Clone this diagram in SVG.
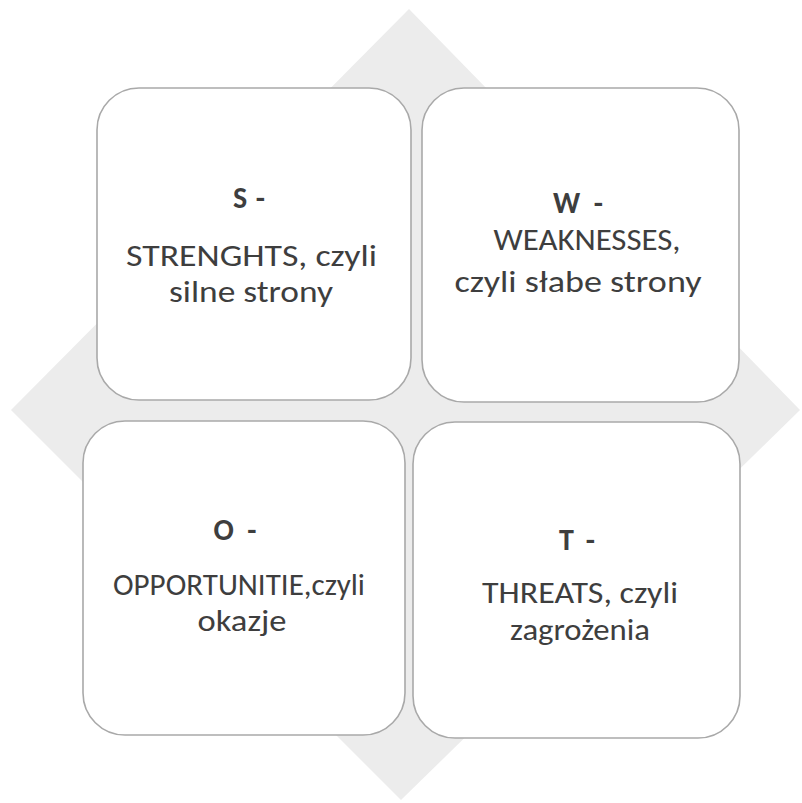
<svg xmlns="http://www.w3.org/2000/svg" width="802" height="803" viewBox="0 0 802 803">
<style>
.box{fill:#ffffff;stroke:#a9a9a9;stroke-width:1.6}
.t{font-family:Carlito,Lato,"Open Sans",sans-serif;font-size:30px;fill:#3e3e3e;text-anchor:middle}
.h{font-weight:bold}
</style>
<rect width="802" height="803" fill="#ffffff"/>
<g id="background">
<polygon points="409,9 800,410 401,800 11,410" fill="#ececec"/>
</g>
<g id="connectors"></g>
<g id="node-s">
<rect class="box" x="97" y="88" width="314" height="312" rx="42"/>
<text class="t h" x="249" y="208" textLength="32" lengthAdjust="spacing">S -</text>
<text class="t" x="251.5" y="266" textLength="251" lengthAdjust="spacingAndGlyphs">STRENGHTS, czyli</text>
<text class="t" x="251" y="302" textLength="164" lengthAdjust="spacingAndGlyphs">silne strony</text>
</g>
<g id="node-w">
<rect class="box" x="422" y="88" width="317" height="314" rx="42"/>
<text class="t h" x="578" y="213" textLength="50" lengthAdjust="spacing">W -</text>
<text class="t" x="587" y="250" textLength="187" lengthAdjust="spacingAndGlyphs">WEAKNESSES,</text>
<text class="t" x="578" y="292" textLength="247" lengthAdjust="spacingAndGlyphs">czyli słabe strony</text>
</g>
<g id="node-o">
<rect class="box" x="83" y="421" width="322" height="314" rx="42"/>
<text class="t h" x="235" y="540" textLength="43" lengthAdjust="spacing">O -</text>
<text class="t" x="239" y="595" textLength="252" lengthAdjust="spacingAndGlyphs">OPPORTUNITIE,czyli</text>
<text class="t" x="242" y="631" textLength="89" lengthAdjust="spacingAndGlyphs">okazje</text>
</g>
<g id="node-t">
<rect class="box" x="413" y="422" width="327" height="316" rx="42"/>
<text class="t h" x="577" y="550" textLength="36" lengthAdjust="spacing">T -</text>
<text class="t" x="580" y="603" textLength="196" lengthAdjust="spacingAndGlyphs">THREATS, czyli</text>
<text class="t" x="580" y="640" textLength="140" lengthAdjust="spacingAndGlyphs">zagrożenia</text>
</g>
</svg>
